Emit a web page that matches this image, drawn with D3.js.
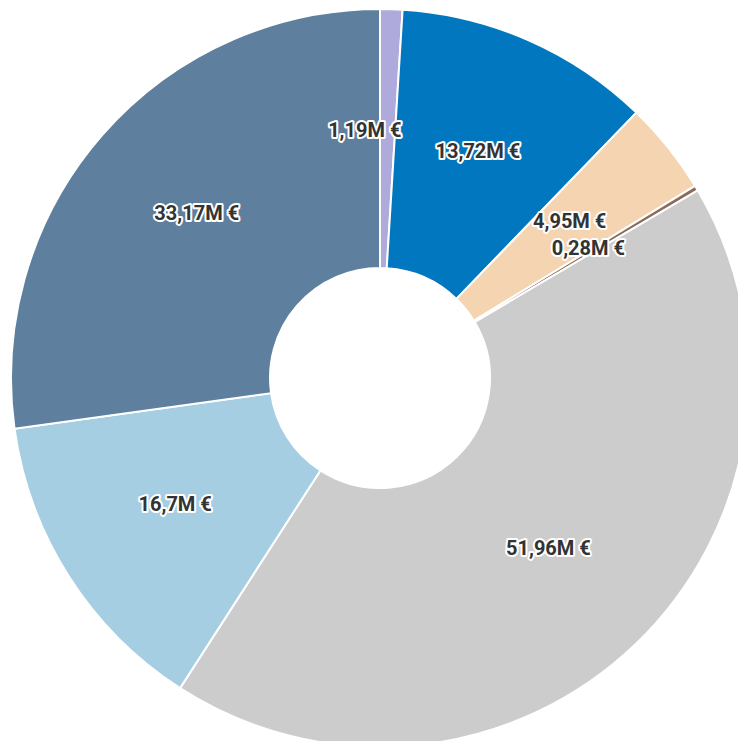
<!DOCTYPE html>
<html>
<head>
<meta charset="utf-8">
<script src="https://cdn.jsdelivr.net/npm/d3@7"></script>
<style>
  body { margin: 0; background: #fff; }
  .label { font: bold 20px Roboto, sans-serif; fill: #333; paint-order: stroke; stroke: #fff; stroke-width: 4px; stroke-linejoin: round; }
</style>
</head>
<body>
<svg width="738" height="741"></svg>
<script>
// slices, clockwise from 12 o'clock
var names  = ["a", "b", "c", "d", "e", "f", "g"];
var values = [1.19, 13.72, 4.95, 0.28, 51.96, 16.7, 33.17];
var labels = ["1,19M €", "13,72M €", "4,95M €", "0,28M €", "51,96M €", "16,7M €", "33,17M €"];
var colors = ["#aeaadb", "#0077be", "#f5d4b2", "#8b6d5c", "#cccccc", "#a6cee3", "#5f7f9e"];

var svg = d3.select("svg"),
    cx = 380, cy = 378,
    outer = 369, inner = 110,
    g = svg.append("g").attr("transform", "translate(" + cx + "," + cy + ")");

var data = values.map(function(v, i) { return {name: names[i], value: v, label: labels[i], color: colors[i]}; });

var pie = d3.pie()
    .sort(null)
    .value(function(d) { return d.value; });

var arc = d3.arc().innerRadius(inner).outerRadius(outer);
var labelArc = d3.arc().innerRadius(243).outerRadius(243);

var arcs = pie(data);

g.selectAll(".slice")
  .data(arcs)
  .enter().append("path")
    .attr("class", "slice")
    .attr("d", arc)
    .attr("fill", function(d) { return d.data.color; })
    .attr("stroke", "#fff")
    .attr("stroke-width", 2);

// the tiny first slice's label is pushed left, away from its neighbour
g.selectAll(".label")
  .data(arcs)
  .enter().append("text")
    .attr("class", "label")
    .attr("transform", function(d) { return "translate(" + labelArc.centroid(d) + ")"; })
    .attr("text-anchor", function(d, i) { return i === 0 ? "end" : "middle"; })
    .attr("dx", function(d, i) { return i === 0 ? 14 : 0; })
    .attr("dy", "0.1em")
    .text(function(d) { return d.data.label; });
</script>
</body>
</html>
